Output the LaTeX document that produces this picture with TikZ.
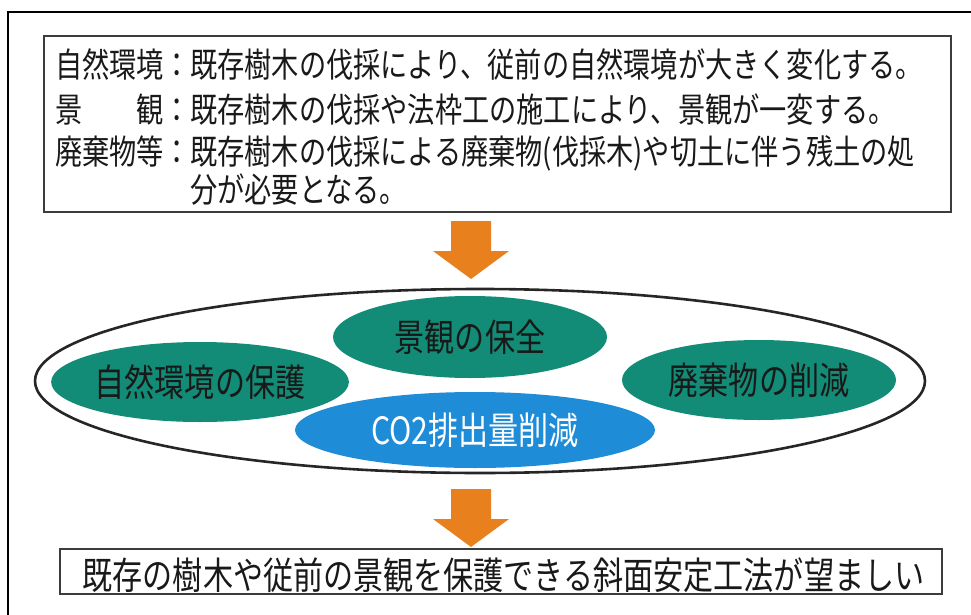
\documentclass[tikz,border=0pt]{standalone}
\usepackage{fontspec}
\newfontfamily\jp[FakeStretch=0.8]{Noto Sans CJK JP}
\usetikzlibrary{shapes.geometric}
\definecolor{arroworange}{RGB}{232,128,30}
\definecolor{tealgreen}{RGB}{18,140,118}
\definecolor{skyblue}{RGB}{30,140,215}
\definecolor{boxline}{RGB}{60,60,60}
\begin{document}
\begin{tikzpicture}[x=1pt,y=-1pt,
  frameline/.style={line width=1.8pt,black},
  textbox/.style={draw=boxline,line width=1.2pt,rectangle,inner sep=0pt},
  toptext/.style={font=\jp\fontsize{34}{40}\selectfont,inner sep=0pt,anchor=base west,text=black!90},
  bigtext/.style={font=\jp\fontsize{37.6}{44}\selectfont,inner sep=0pt},
  bigellipse/.style={ellipse,draw=black!85,line width=2.6pt,inner sep=0pt},
  greenoval/.style={ellipse,fill=tealgreen,inner sep=0pt,bigtext,text=black!90},
  blueoval/.style={ellipse,fill=skyblue,inner sep=0pt,bigtext,text=white},
  blockarrow/.pic={\fill[arroworange] (-20,0) -- (20,0) -- (20,30) -- (38,30) -- (0,58) -- (-38,30) -- (-20,30) -- cycle;}
]
\useasboundingbox (0,0) rectangle (971,615);
% outer frame (only top and left edges visible)
\draw[frameline] (8,616) -- (8,12) -- (972,12);

% top box
\node[textbox,minimum width=907pt,minimum height=176pt] (topbox) at (497.5,124) {};
\node[toptext] (l1a) at (55,78) {自然環境};
\node[toptext] (l1b) at (163,78) {：};
\node[toptext] (l1c) at (190,78) {既存樹木の伐採により、従前の自然環境が大きく変化する。};
\node[toptext] (l2a) at (55,122) {景};
\node[toptext] (l2b) at (136,122) {観};
\node[toptext] (l2c) at (163,122) {：};
\node[toptext] (l2d) at (190,122) {既存樹木の伐採や法枠工の施工により、景観が一変する。};
\node[toptext] (l3a) at (55,164) {廃棄物等};
\node[toptext] (l3b) at (163,164) {：};
\node[toptext] (l3c) at (190,164) {既存樹木の伐採による廃棄物(伐採木)や切土に伴う残土の処};
\node[toptext] (l4) at (190,202) {分が必要となる。};

% arrow 1
\coordinate (a1) at (471,221);
\pic at (a1) {blockarrow};

% big ellipse
\node[bigellipse,minimum width=890pt,minimum height=184pt] (big) at (480,381) {};
\node[greenoval,minimum width=274pt,minimum height=82pt] (keikan) at (470,337) {景観の保全};
\node[greenoval,minimum width=276pt,minimum height=80pt] (shizen) at (200,382) {自然環境の保護};
\node[greenoval,minimum width=274pt,minimum height=80pt] (haiki) at (759,380) {廃棄物の削減};
\node[blueoval,minimum width=360pt,minimum height=76pt] (co2) at (475,430) {CO2排出量削減};

% arrow 2
\coordinate (a2) at (471,489);
\pic at (a2) {blockarrow};

% bottom box
\node[textbox,minimum width=882pt,minimum height=45pt] (botbox) at (501,571.5) {};
\node[bigtext,anchor=base,text=black!90] (bottext) at (503.5,589) {既存の樹木や従前の景観を保護できる斜面安定工法が望ましい};
\end{tikzpicture}
\end{document}
